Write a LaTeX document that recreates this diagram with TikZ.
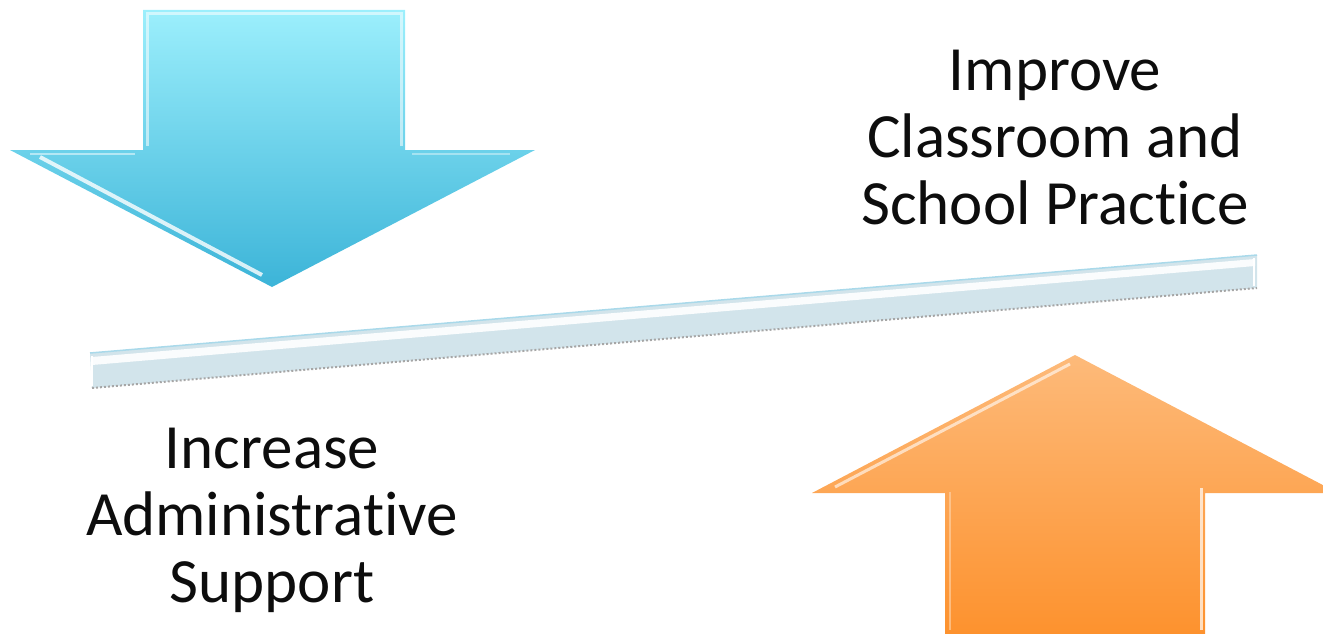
\documentclass[tikz,border=0pt]{standalone}
\usepackage{fontspec}
\setmainfont{Carlito}[Ligatures=NoCommon]
\definecolor{blueTop}{HTML}{9CEFFC}
\definecolor{blueBot}{HTML}{3CB4D8}
\definecolor{orangeTop}{HTML}{FDBA7A}
\definecolor{orangeBot}{HTML}{FD922E}
\definecolor{barBody}{HTML}{D2E4EB}
\definecolor{barEdge}{HTML}{A9D9EA}
\begin{document}
\begin{tikzpicture}[x=1pt,y=1pt,
  lbl/.style={align=center,font=\fontsize{63}{67}\selectfont,text=black!95,inner sep=0pt},
  bevel/.style={white,line width=3pt,opacity=0.55,line join=miter}]
\useasboundingbox (0,0) rectangle (1323,-634);
% blue down arrow
\coordinate (btip) at (272,-287);
\shade[top color=blueTop,bottom color=blueBot]
  (143,-10) -- (405,-10) -- (405,-150) -- (535,-150) -- (btip) -- (10,-150) -- (143,-150) -- cycle;
\draw[bevel] (147,-146) -- (147,-14) -- (401,-14) -- (401,-146);
\draw[white,line width=4pt,opacity=0.8] (40,-157) -- (262,-275);
\draw[white,line width=2pt,opacity=0.5] (30,-154) -- (135,-154);
\draw[white,line width=2pt,opacity=0.4] (412,-154) -- (510,-154);
% orange up arrow
\coordinate (otip) at (1075,-355);
\shade[top color=orangeTop,bottom color=orangeBot]
  (945,-634) -- (945,-493) -- (812,-493) -- (otip) -- (1338,-493) -- (1205,-493) -- (1205,-634) -- cycle;
\draw[white,line width=3pt,opacity=0.6] (835,-487) -- (1070,-364);
\draw[white,line width=3pt,opacity=0.7] (1201,-488) -- (1201,-630);
\draw[orangeTop!60!white,line width=2pt,opacity=0.6] (950,-492) -- (950,-630);
% bar
\coordinate (bl) at (90,-353);
\coordinate (br) at (1257,-255);
\fill[barBody] (90,-353) -- (1257,-255) -- (1257,-288) -- (92,-388) -- cycle;
\fill[white,opacity=0.9] (92,-357) -- (1255,-259) -- (1255,-266) -- (92,-365) -- cycle;
\draw[barEdge,line width=1.5pt] (bl) -- (br);
\draw[gray!70,line width=2pt,dash pattern=on 2pt off 2pt] (92,-388) -- (1257,-288);
\draw[white,line width=1.5pt] (92,-356) -- (92,-386);
\draw[white,line width=1.5pt] (1254,-258) -- (1254,-286);
% texts
\node[lbl] (improve) at (1055,-138) {Improve\\Classroom and\\School Practice};
\node[lbl] (increase) at (272,-520) {Increase\\Administrative\\Support};
\end{tikzpicture}
\end{document}
